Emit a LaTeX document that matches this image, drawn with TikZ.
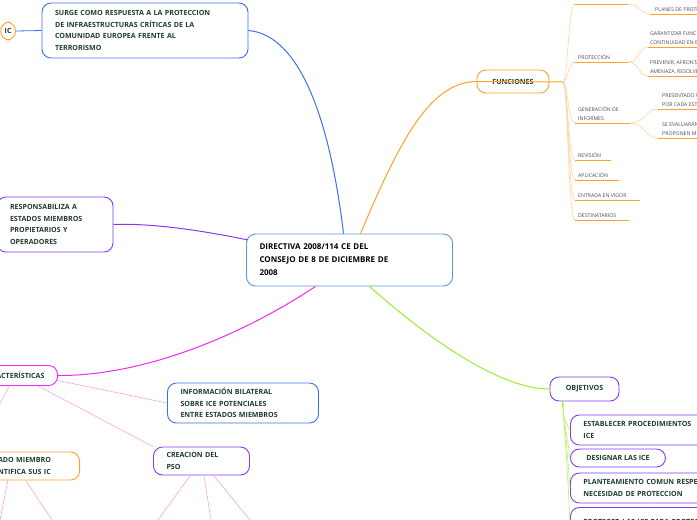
\documentclass[tikz,border=0pt]{standalone}
\usepackage{fontspec}
\setmainfont{Open Sans}
\usetikzlibrary{positioning}
\definecolor{txtgreen}{RGB}{30,60,45}
\definecolor{mmblue}{RGB}{60,110,235}
\definecolor{cblue}{RGB}{90,155,213}
\definecolor{mmorange}{RGB}{255,160,40}
\definecolor{mmpurple}{RGB}{130,60,240}
\definecolor{mmpink}{RGB}{240,40,240}
\definecolor{ltpink}{RGB}{240,150,240}
\definecolor{mmgreen}{RGB}{150,240,40}
\definecolor{ltgreen}{RGB}{190,245,120}
\tikzset{
  topic/.style={draw, line width=0.9pt, rounded corners=9pt, align=left, inner xsep=13pt, inner ysep=5pt,
    font=\fontsize{7.1}{11.5}\selectfont\bfseries, text=txtgreen},
  sub/.style={anchor=south west, align=left, inner sep=1pt, font=\fontsize{5.2}{9}\selectfont, text=black!70},
  uline/.style={draw=mmorange, line width=1pt},
}
\begin{document}
\begin{tikzpicture}[x=1pt,y=-1pt]
\useasboundingbox (0,0) rectangle (697,520);

% main topic
\node[topic, draw=cblue, text=black, minimum width=205pt, minimum height=52pt, text width=180pt,
  font=\fontsize{8}{13}\selectfont\bfseries] (main) at (349.5,260) {DIRECTIVA 2008/114 CE DEL\\CONSEJO DE 8 DE DICIEMBRE DE\\2008};

% left and top topics
\node[topic, draw=mmblue, minimum width=204pt, minimum height=55pt, text width=180pt] (surge) at (145,30.5)
  {SURGE COMO RESPUESTA A LA PROTECCION\\DE INFRAESTRUCTURAS CRÍTICAS DE LA\\COMUNIDAD EUROPEA FRENTE AL\\TERRORISMO};
\node[topic, draw=mmorange, minimum height=18pt, anchor=east, inner xsep=4pt] (ic) at (16,31) {IC};
\node[topic, draw=mmpurple, minimum width=110pt, minimum height=55pt, text width=90pt] (resp) at (55,224.5)
  {RESPONSABILIZA A\\ESTADOS MIEMBROS\\PROPIETARIOS Y\\OPERADORES};

% caracteristicas
\node[topic, draw=mmpink, minimum height=20pt, anchor=east] (carac) at (58,375.5) {CARACTERÍSTICAS};
\node[topic, draw=mmblue, minimum width=144pt, minimum height=40pt, text width=125pt] (info) at (243,403)
  {INFORMACIÓN BILATERAL\\SOBRE ICE POTENCIALES\\ENTRE ESTADOS MIEMBROS};
\node[topic, draw=mmpurple, minimum width=93pt, minimum height=28pt, text width=70pt] (pso) at (201.5,461)
  {CREACION DEL\\PSO};
\node[topic, draw=mmorange, minimum height=28pt, anchor=east, text width=80pt] (estado) at (80,466)
  {ESTADO MIEMBRO\\IDENTIFICA SUS IC};

% funciones
\node[topic, draw=mmorange, minimum width=72pt, minimum height=23pt, inner xsep=4pt] (func) at (513,81.5) {FUNCIONES};

% objetivos
\node[topic, draw=mmpurple, minimum width=69pt, minimum height=24pt, inner xsep=4pt] (obj) at (584.5,389) {OBJETIVOS};
\node[topic, draw=mmpurple, anchor=west, minimum width=150pt, minimum height=30pt, text width=160pt] (obj1) at (570,430)
  {ESTABLECER PROCEDIMIENTOS\\ICE};
\node[topic, draw=mmpurple, anchor=west, minimum width=95pt, minimum height=18pt, inner xsep=7pt] (obj2) at (570,458)
  {DESIGNAR LAS ICE};
\node[topic, draw=mmpurple, anchor=west, minimum width=150pt, minimum height=30pt, text width=160pt] (obj3) at (570,488)
  {PLANTEAMIENTO COMUN  RESPECTO A LA\\NECESIDAD DE PROTECCION};
\node[topic, draw=mmpurple, anchor=north west, minimum width=150pt, minimum height=30pt, text width=160pt] (obj4) at (570,507)
  {PROTEGER LAS ICE PARA PROTEGER};

% main connectors
\draw[mmblue, line width=1pt] (main.north) ++(-6,0) .. controls (330,120) and (300,35) .. (surge.east);
\draw[mmorange, line width=1pt] (main.north) ++(11,0) .. controls (400,140) and (430,82) .. (func.west);
\draw[mmpurple, line width=1pt] (main.west) ++(2,-20) .. controls (200,230) and (150,223) .. (resp.east);
\draw[mmpink, line width=1pt] (main.south) ++(-34,0) .. controls (250,330) and (150,376) .. (carac.east);
\draw[mmgreen, line width=1pt] (main.south) ++(20,0) .. controls (430,340) and (500,389) .. (obj.west);
\draw[mmblue, line width=0.8pt] (ic.east) -- (surge.west);

% caracteristicas children
\draw[ltpink, line width=0.5pt] (carac.east) ++(0,5) -- (info.west);
\draw[ltpink, line width=0.5pt] (carac.south east) ++(-20,0) -- (pso.north west) ++(18,0);
\draw[ltpink, line width=0.5pt] (10,385) -- (estado.north west) ++(24,0);
\draw[ltpink, line width=0.5pt] (8,480) -- (0,520) (26,481) -- (52,520);
\draw[ltpink, line width=0.5pt] (190,476) -- (158,520) (204,476) -- (211,520) (214,476) -- (250,520);

% objetivos children
\coordinate (ospine) at (563,401);
\foreach \k in {obj1,obj2,obj3,obj4}
  \draw[ltgreen, line width=0.7pt] (ospine) .. controls (563,420) and (565,420) .. (\k.west);
\draw[mmgreen, line width=1pt] (obj.south west) ++(13,0) -- ++(0,6);

% funciones children
\coordinate (fspine) at (563,82);
\draw[mmorange, line width=1pt] (func.west) -- (fspine);
\foreach \y/\w/\t in {62/53/PROTECCIÓN, 123/55/{GENERACIÓN DE\\INFORMES}, 160/36/REVISIÓN, 180/44/APLICACIÓN, 200/65/ENTRADA EN VIGOR, 220/54/DESTINATARIOS}{
  \draw[mmorange!45, line width=0.6pt] (fspine) .. controls (568,82) and (568,\y) .. (575,\y);
  \draw[uline] (575,\y) -- ++(\w,0);
  \node[sub] at (577,\y-1) {\t};
}
\draw[mmorange!45, line width=0.6pt] (fspine) .. controls (568,82) and (568,4) .. (575,4);
\draw[uline] (575,4) -- ++(53,0);
% second level
\foreach \y/\yy/\t in {62/47/{GARANTIZAR  FUNCIONAMIENTO Y\\CONTINUIDAD EN EL SERVICIO}, 62/76/{PREVENIR, AFRONTAR Y REDUCIR\\AMENAZA, RESOLVER}}{
  \draw[mmorange!45, line width=0.6pt] (628,\y) .. controls (640,\y) and (638,\yy) .. (648,\yy);
  \draw[uline] (648,\yy) -- (697,\yy);
  \node[sub] at (649,\yy-1) {\t};
}
\foreach \y/\yy/\t in {123/109/{PRESENTADO UN INFORME\\POR CADA ESTADO}, 123/138/{SE EVALUARÁN LAS ICE Y SE\\PROPONEN MEDIDAS}}{
  \draw[mmorange!45, line width=0.6pt] (630,\y) .. controls (645,\y) and (645,\yy) .. (658,\yy);
  \draw[uline] (658,\yy) -- (697,\yy);
  \node[sub] at (661,\yy-1) {\t};
}
\draw[mmorange!45, line width=0.6pt] (628,4) .. controls (640,4) and (640,14) .. (650,14);
\draw[uline] (650,14) -- (697,14);
\node[sub] at (654,13) {PLANES DE PROTECCIÓN};
\end{tikzpicture}
\end{document}
